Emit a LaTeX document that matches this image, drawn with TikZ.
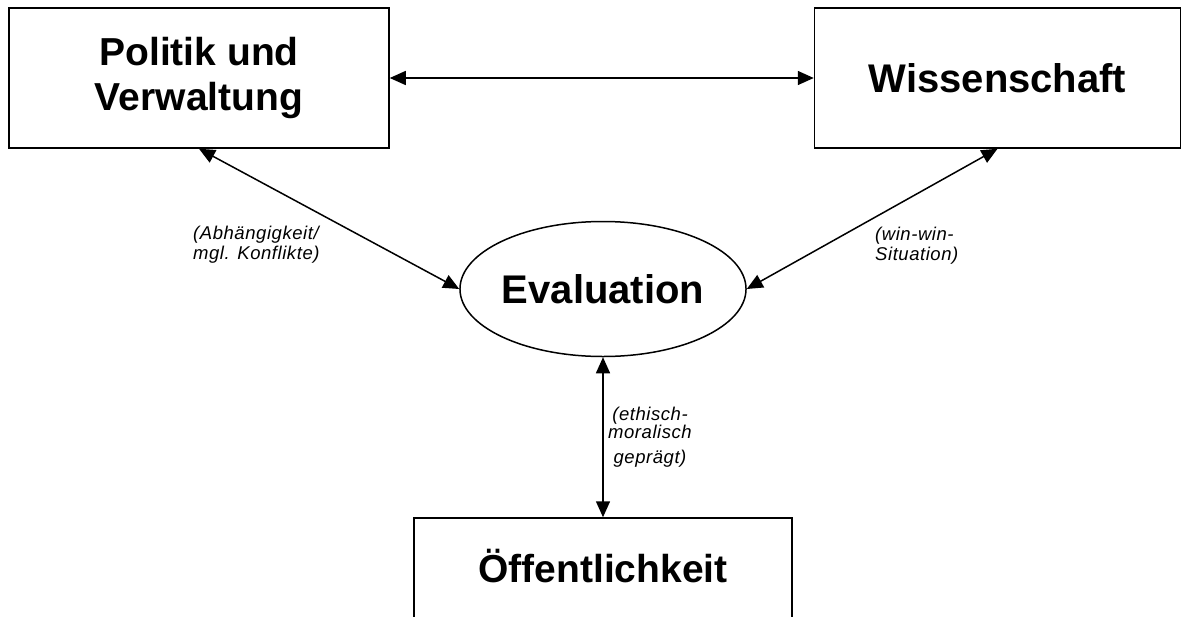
\documentclass[tikz,border=0pt]{standalone}
\usepackage{fontspec}
\setmainfont{Liberation Sans}
\newfontfamily\notefont[LetterSpace=3]{Liberation Sans}
\usetikzlibrary{shapes.geometric, arrows.meta, positioning}

\begin{document}
\begin{tikzpicture}[
    x=1pt, y=-1pt,
    node distance = 424pt,
    box/.style = {rectangle, draw=black, line width=1.5pt, minimum height=140pt, align=center, inner sep=0pt, font=\fontsize{39}{44}\selectfont\bfseries},
    oval/.style = {ellipse, draw=black, line width=1.5pt, minimum width=283pt, minimum height=135pt, inner sep=0pt, font=\fontsize{40}{44}\selectfont\bfseries},
    note/.style = {inner sep=0pt, font=\notefont\fontsize{18.5}{20}\selectfont\itshape},
    arrow/.style = {{Triangle[length=16pt,width=14pt]}-{Triangle[length=16pt,width=14pt]}, line width=1.5pt}
]
    \useasboundingbox (0,0) rectangle (1185,616);
    \node[box, minimum width=380pt] (politik) at (199,78) {Politik und\\Verwaltung};
    \node[box, minimum width=366pt, right=of politik, font=\fontsize{40}{44}\selectfont\bfseries] (wissen) {Wissenschaft};
    \node[oval] (eval) at (603,289) {Evaluation};
    \node[box, minimum width=378pt, text height=35pt, text depth=47pt] (oeff) at (603,588) {Öffentlichkeit};
    \draw[arrow] (politik.east) -- (wissen.west);
    \draw[arrow] (politik.south) -- (eval.west);
    \draw[arrow] (wissen.south) -- (eval.east);
    \draw[arrow] (eval.south) -- (oeff.north);
    \node[note, align=left, anchor=west] (abh) at (193,245) {(Abhängigkeit/\\mgl. Konflikte)};
    \node[note, align=left, anchor=west] (winwin) at (875,246) {(win-win-\\Situation)};
    \node[note, align=center, font=\notefont\fontsize{18.5}{18}\selectfont\itshape] (ethik) at (650,437) {(ethisch-\\moralisch\\[7pt]geprägt)};
\end{tikzpicture}
\end{document}
